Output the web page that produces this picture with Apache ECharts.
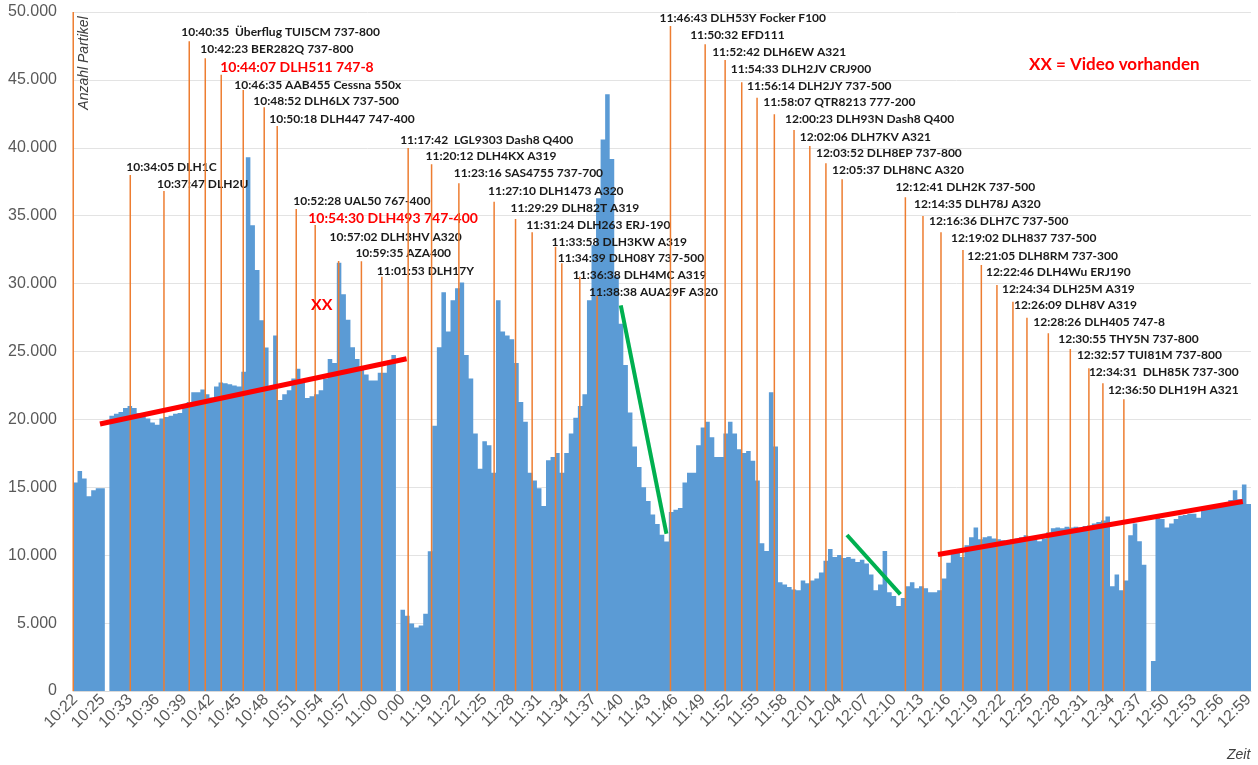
<!DOCTYPE html>
<html>
<head>
<meta charset="utf-8">
<title>Anzahl Partikel</title>
<script src="https://cdn.jsdelivr.net/npm/echarts@6/dist/echarts.min.js"></script>
<style>
  html, body { margin: 0; padding: 0; background: #fff; }
  #main { width: 1258px; height: 765px; }
</style>
</head>
<body>
<div id="main"></div>
<script>
'use strict';
(function () {
    // Zeitachse: eine Beschriftung alle 6 Messwerte
    var tickLabels = ['10:22', '10:25', '10:33', '10:36', '10:39', '10:42', '10:45', '10:48', '10:51', '10:54',
        '10:57', '11:00', '0:00', '11:19', '11:22', '11:25', '11:28', '11:31', '11:34', '11:37',
        '11:40', '11:43', '11:46', '11:49', '11:52', '11:55', '11:58', '12:01', '12:04', '12:07',
        '12:10', '12:13', '12:16', '12:19', '12:22', '12:25', '12:28', '12:31', '12:34', '12:37',
        '12:50', '12:53', '12:56', '12:59'];

    // Anzahl Partikel je Messwert (null = keine Messung)
    var counts = [
        15360, 16200, 15650, 14350, 14780, 14930, 14930, null, 20270, 20410,
        20550, 20840, 20990, 20840, 20470, 20180, 20060, 19780, 19600, 20060,
        20180, 20270, 20410, 20470, 20840, 21280, 22000, 22000, 22200, 21850,
        21620, 22430, 22720, 22660, 22580, 22490, 22430, 23500, 39300, 34300,
        31000, 27300, 25300, 22200, 26180, 21420, 21850, 22140, 23010, 23730,
        22720, 21570, 21710, 21850, 22140, 23010, 24450, 24160, 31530, 29220,
        27340, 25320, 24450, 23730, 23300, 22870, 22870, 23440, 23440, 24310,
        24740, null, 5980, 5540, 4970, 4680, 4820, 5690, 10300, 19540,
        25320, 29360, 26470, 28780, 29650, 30080, 24740, 23010, 18970, 16370,
        18390, 18100, 16080, 28780, 26470, 26180, 25900, 24160, 21280, 19830,
        16080, 15500, 14930, 13630, 17000, 17240, 17520, 16080, 17520, 18970,
        20120, 20990, 21850, 28780, 32830, 36290, 40620, 43940, 39180, 30520,
        27050, 24000, 20500, 18000, 16500, 15000, 14000, 13000, 12300, 11500,
        11000, 13190, 13340, 13480, 15360, 16080, 16080, 18100, 19400, 19830,
        18680, 17240, 17240, 18970, 19830, 18970, 17810, 17520, 17670, 16950,
        15500, 10880, 10310, 22000, 18000, 8000, 7850, 7650, 7480, 7420,
        8140, 7940, 8140, 8290, 8720, 9590, 10450, 9870, 10020, 9790,
        9870, 9730, 9500, 9670, 9380, 8570, 7420, 7850, 10310, 7280,
        6990, 6260, 6840, 7710, 8000, 7560, 7710, 7560, 7280, 7280,
        7420, 8290, 9440, 10160, 10450, 9870, 10740, 11320, 12040, 11170,
        11320, 11400, 11230, 11170, 11110, 11030, 11170, 11230, 11320, 11460,
        11320, 11170, 11030, 11230, 11690, 11980, 12040, 11980, 12100, 12040,
        12100, 12040, 12150, 12210, 12330, 12440, 12560, 12850, 7710, 8570,
        7420, 8140, 11460, 12330, 11030, 9300, null, 2200, 12900, 12670,
        12040, 12330, 12670, 12900, 12960, 13050, 13050, 12760, 13420, 13630,
        13630, 13630, 13710, 13830, 14060, 14780, 14120, 15210, 13770
    ];

    // Überflüge: Lage auf der Achse (in Messwerten), Höhe der Linie, Text
    var flightPos = [-0.45, 12.09, 19.5, 25.06, 28.58, 32.09, 36.93, 41.54, 44.4, 48.58,
        52.75, 57.9, 62.91, 67.41, 73.19, 78.34, 84.34, 92.09, 96.8, 100.45,
        105.59, 106.97, 110.93, 114.73, 130.86, 138.49, 142.88, 146.53, 149.9, 153.7,
        158.03, 161.5, 165.04, 168.6, 182.51, 186.38, 190.34, 195.17, 199.21, 202.64,
        206.16, 209.24, 213.94, 218.77, 222.86, 225.94, 230.55];
    var flightHeight = [50000, 38000, 36820, 47840, 46590, 45380, 44260, 42980, 41610, 35490,
        34320, 31660, 31650, 30500, 39990, 38790, 37390, 36030, 34760, 33780,
        32720, 31500, 30510, 29090, 48970, 47620, 46470, 44820, 43690, 42470,
        41310, 40130, 38860, 37680, 36360, 34980, 33780, 32480, 31370, 29900,
        28670, 27490, 26340, 25180, 23760, 22660, 21480];
    var flightText = ['',
        '10:34:05 DLH1C', '10:37:47 DLH2U', '10:40:35  Überflug TUI5CM 737-800',
        '10:42:23 BER282Q 737-800', '10:44:07 DLH511 747-8', '10:46:35 AAB455 Cessna 550x',
        '10:48:52 DLH6LX 737-500', '10:50:18 DLH447 747-400', '10:52:28 UAL50 767-400',
        '10:54:30 DLH493 747-400', '10:57:02 DLH3HV A320', '10:59:35 AZA400',
        '11:01:53 DLH17Y', '11:17:42  LGL9303 Dash8 Q400', '11:20:12 DLH4KX A319',
        '11:23:16 SAS4755 737-700', '11:27:10 DLH1473 A320', '11:29:29 DLH82T A319',
        '11:31:24 DLH263 ERJ-190', '11:33:58 DLH3KW A319', '11:34:39 DLH08Y 737-500',
        '11:36:38 DLH4MC A319', '11:38:38 AUA29F A320', '11:46:43 DLH53Y Focker F100',
        '11:50:32 EFD111', '11:52:42 DLH6EW A321', '11:54:33 DLH2JV CRJ900',
        '11:56:14 DLH2JY 737-500', '11:58:07 QTR8213 777-200', '12:00:23 DLH93N Dash8 Q400',
        '12:02:06 DLH7KV A321', '12:03:52 DLH8EP 737-800', '12:05:37 DLH8NC A320',
        '12:12:41 DLH2K 737-500', '12:14:35 DLH78J A320', '12:16:36 DLH7C 737-500',
        '12:19:02 DLH837 737-500', '12:21:05 DLH8RM 737-300', '12:22:46 DLH4Wu ERJ190',
        '12:24:34 DLH25M A319', '12:26:09 DLH8V A319', '12:28:26 DLH405 747-8',
        '12:30:55 THY5N 737-800', '12:32:57 TUI81M 737-800', '12:34:31  DLH85K 737-300',
        '12:36:50 DLH19H A321'];
    var videoFlights = ['10:44:07 DLH511 747-8', '10:54:30 DLH493 747-400'];

    // Trendlinien
    var trendUp1 = [[5.43, 19660], [72.84, 24470]];
    var trendUp2 = [[189.68, 10050], [256.7, 13950]];
    var trendDown1 = [[119.94, 28390], [129.98, 11580]];
    var trendDown2 = [[169.67, 11490], [181.41, 7110]];

    // Layout: Versatz der Beschriftung zum oberen Linienende (px)
    var labelShift = [[0, 0], [-4, -8], [-7, -7], [-8, -9], [-5, -9], [-1, -7], [-9, -5], [-11, -6], [-8, -7], [-3, -8],
        [-7, -6], [-9, -24], [-6, -8], [-5, -6], [-8, -8], [-6, -8], [-5, -10], [-6, -11], [-5, -11], [-6, -7],
        [-4, -5], [-4, -5], [-7, -2], [-8, -4], [-11, -8], [-15, -9], [-13, -8], [-11, -13], [-10, -12], [-11, -12],
        [-9, -11], [-10, -9], [-10, -10], [-10, -9], [-10, -10], [-9, -12], [-12, -11], [-12, -12], [-14, -9], [-11, -13],
        [-11, -13], [-13, -13], [-15, -11], [-12, -10], [-12, -13], [-14, -11], [-16, -9]];

    var categories = counts.map(function (v, i) {
        return i % 6 === 0 ? tickLabels[i / 6] : 'k' + i;
    });
    var flights = flightPos.map(function (p, i) {
        return [p, flightHeight[i]];
    });

    var myChart = echarts.init(document.getElementById('main'));

    var option = {
        animation: false,
        backgroundColor: '#fff',
        textStyle: { fontFamily: 'Liberation Sans' },
        grid: { left: 73, right: 7, top: 12, bottom: 74 },
        xAxis: [{
            type: 'category',
            data: categories,
            axisLine: { lineStyle: { color: '#d9d9d9' } },
            axisTick: { interval: 9, length: 5, lineStyle: { color: '#d9d9d9' } },
            axisLabel: { interval: 5, rotate: 45, margin: 6, fontSize: 16, color: '#595959' },
            splitLine: { show: false }
        }, {
            type: 'value',
            min: -0.5,
            max: counts.length - 0.5,
            show: false
        }],
        yAxis: {
            type: 'value',
            min: 0,
            max: 50000,
            interval: 5000,
            axisLine: { show: false },
            axisTick: { show: false },
            splitLine: { lineStyle: { color: '#e3e3e3' } },
            axisLabel: {
                fontSize: 16,
                color: '#595959',
                margin: 16,
                formatter: function (v) {
                    return v === 0 ? '0' : (v / 1000) + '.000';
                }
            }
        },
        graphic: [{
            type: 'text', x: 84, y: 63, rotation: Math.PI / 2, z: 100,
            style: {
                text: 'Anzahl Partikel', align: 'center', verticalAlign: 'middle',
                fontFamily: 'Liberation Sans', fontStyle: 'italic', fontSize: 14, fill: '#404040'
            }
        }, {
            type: 'text', x: 1227, y: 755, z: 100,
            style: {
                text: 'Zeit', verticalAlign: 'middle',
                fontFamily: 'Liberation Sans', fontStyle: 'italic', fontSize: 14, fill: '#404040'
            }
        }, {
            type: 'text', x: 1029, y: 65, z: 100,
            style: {
                text: 'XX = Video vorhanden', verticalAlign: 'middle',
                fontFamily: 'Lato', fontWeight: 'bold', fontSize: 17, fill: '#ff0000'
            }
        }, {
            type: 'text', x: 311, y: 305, z: 100,
            style: {
                text: 'XX', verticalAlign: 'middle',
                fontFamily: 'Lato', fontWeight: 'bold', fontSize: 16, fill: '#ff0000'
            }
        }],
        series: [{
            name: 'Anzahl Partikel',
            type: 'bar',
            data: counts,
            barCategoryGap: '0%',
            // large: alle Balken als ein Pfad, so bleiben keine hellen Fugen
            large: true,
            largeThreshold: 50,
            itemStyle: { color: '#5B9BD5' },
            z: 2
        }, {
            name: 'Überflüge',
            type: 'custom',
            xAxisIndex: 1,
            data: flights,
            z: 3,
            renderItem: function (params, api) {
                var i = params.dataIndex;
                var foot = api.coord([api.value(0), 0]);
                var top = api.coord([api.value(0), api.value(1)]);
                var red = videoFlights.indexOf(flightText[i]) >= 0;
                return {
                    type: 'group',
                    children: [{
                        type: 'line',
                        shape: { x1: foot[0], y1: foot[1], x2: top[0], y2: top[1] },
                        style: { stroke: '#ED7D31', lineWidth: 1.5 }
                    }, {
                        type: 'text',
                        x: top[0] + labelShift[i][0],
                        y: top[1] + labelShift[i][1],
                        style: {
                            text: flightText[i],
                            align: 'left',
                            verticalAlign: 'middle',
                            fontFamily: 'Lato',
                            fontWeight: 'bold',
                            fontSize: red ? 14 : 12,
                            fill: red ? '#ff0000' : '#1a1a1a'
                        }
                    }]
                };
            }
        }, {
            type: 'line', xAxisIndex: 1, data: trendUp1, symbol: 'none', z: 4,
            lineStyle: { color: '#ff0000', width: 5 }
        }, {
            type: 'line', xAxisIndex: 1, data: trendUp2, symbol: 'none', z: 4,
            lineStyle: { color: '#ff0000', width: 5 }
        }, {
            type: 'line', xAxisIndex: 1, data: trendDown1, symbol: 'none', z: 4,
            lineStyle: { color: '#00B050', width: 4 }
        }, {
            type: 'line', xAxisIndex: 1, data: trendDown2, symbol: 'none', z: 4,
            lineStyle: { color: '#00B050', width: 4 }
        }]
    };

    myChart.setOption(option);
})();
</script>
</body>
</html>
